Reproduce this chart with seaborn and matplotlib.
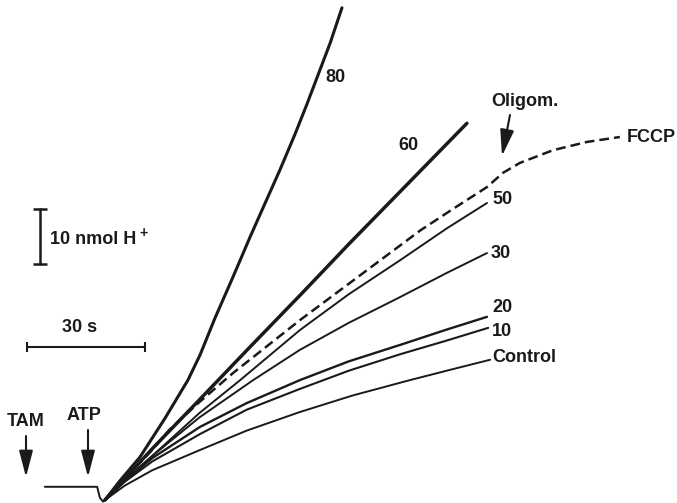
import seaborn as sns
import matplotlib.pyplot as plt
import pandas as pd
import numpy as np

# proton extrusion traces, time in s, H+ in nmol
t_80 = [0, 3.8, 8.9, 15.3, 21.1, 24.2, 28.0, 32.6, 36.9, 40.2, 44.5, 48.4, 51.4, 54.7, 57.3, 60.3]
h_80 = [0, 3.5, 7.8, 14.9, 21.8, 26.4, 33.1, 40.6, 47.8, 53.1, 60.0, 66.6, 72.0, 78.2, 83.1, 89.5]

t_60 = [0, 5, 12, 24, 37, 50, 62, 75, 92.1]
h_60 = [0, 3.9, 9.3, 18.2, 27.9, 37.5, 46.5, 56.0, 68.5]

t_fccp = [0, 5, 12, 16.3, 24, 32.6, 49.6, 62, 80.2, 88.5, 97.2, 101.3, 105.6, 114.0, 122.6, 131.0]
h_fccp = [0, 3.8, 9.1, 12.7, 17.8, 23.1, 32.7, 39.3, 49.0, 52.9, 56.9, 59.5, 61.3, 63.6, 65.1, 66.0]

t_50 = [0, 5, 12, 24, 34.4, 49.6, 62, 75.1, 87, 97.2]
h_50 = [0, 3.5, 8.0, 15.8, 21.8, 30.9, 37.4, 43.6, 49.4, 54.0]

t_30 = [0, 5, 12, 24, 37.7, 49.6, 62, 75.1, 87, 97.2]
h_30 = [0, 3.6, 8.0, 15.0, 21.8, 27.3, 32.2, 36.9, 41.3, 44.9]

t_20 = [0, 5, 12, 24.2, 36, 49.6, 62, 75.1, 87, 97.2]
h_20 = [0, 3.5, 7.6, 13.3, 17.6, 21.8, 25.2, 28.2, 31.0, 33.3]

t_10 = [0, 5, 12, 24.2, 36, 49.6, 62, 75.1, 87, 97.5]
h_10 = [0, 3.3, 7.0, 12.0, 16.4, 20.2, 23.5, 26.5, 29.0, 31.3]

t_ctrl = [0, 5, 12, 24.2, 36, 49.6, 63, 77.6, 88, 98]
h_ctrl = [0, 2.6, 5.4, 9.1, 12.6, 16.0, 19.0, 21.8, 23.7, 25.5]

# baseline before ATP addition
t_base = [-15.3, -2.0, -1.3, -0.5, 0]
h_base = [2.4, 2.4, 0.4, -0.3, 0]

labels = ['80', '60', 'FCCP', '50', '30', '20', '10', 'Control']

sns.set_theme(style='white')
plt.rcParams['font.family'] = ['Liberation Sans', 'DejaVu Sans']

fig = plt.figure(figsize=(6.77, 5.03), dpi=100)
ax = fig.add_axes([0, 0, 1, 1])

X0, Y0, SX, SY = 105, 500, 3.93, 5.5   # pixel origin and px per unit


def px(x, y):
    return ((x - X0) / SX, (Y0 - y) / SY)


traces = [
    (t_80, h_80, 2.2, '-'),
    (t_60, h_60, 2.5, '-'),
    (t_fccp, h_fccp, 1.8, (0, (3.9, 2.0))),
    (t_50, h_50, 1.4, '-'),
    (t_30, h_30, 1.4, '-'),
    (t_20, h_20, 1.7, '-'),
    (t_10, h_10, 1.5, '-'),
    (t_ctrl, h_ctrl, 1.4, '-'),
]
for t, h, lw, ls in traces:
    sns.lineplot(x=t, y=h, ax=ax, color='k', linewidth=lw, linestyle=ls,
                 sort=False, estimator=None)
sns.lineplot(x=t_base, y=h_base, ax=ax, color='k', linewidth=1.4,
             sort=False, estimator=None)

fs = 13
txt = dict(fontsize=fs, fontweight='bold', color='k', va='center', ha='left')
label_pos = {'80': (325, 78), '60': (398, 146), 'FCCP': (627, 137),
             '50': (492, 200), '30': (491, 254), '20': (492, 307),
             '10': (492, 332), 'Control': (492, 357)}
for lab in labels:
    ax.text(*px(*label_pos[lab]), lab, **txt)

ax.text(*px(525, 102), 'Oligom.', **{**txt, 'ha': 'center'})
ax.text(*px(26, 422), 'TAM', **{**txt, 'ha': 'center'})
ax.text(*px(84, 415), 'ATP', **{**txt, 'ha': 'center'})

arrow = dict(arrowstyle='-|>,head_length=1.6,head_width=0.42', color='k',
             lw=1.5, shrinkA=0, shrinkB=0, mutation_scale=10)
ax.annotate('', xy=px(502, 156), xytext=px(510, 115), arrowprops=arrow)
ax.annotate('', xy=px(26, 477), xytext=px(26, 436), arrowprops=arrow)
ax.annotate('', xy=px(88, 477), xytext=px(88, 430), arrowprops=arrow)

# scale bars: 10 nmol H+ and 30 s
vx, vy = px(40, 264)
ax.plot([vx, vx], [vy, vy + 10], color='k', lw=1.8, marker='_',
        markersize=10, markeredgewidth=1.8)
ax.text(*px(50, 239), '10 nmol H', **txt)
ax.text(*px(139, 233), '+', **{**txt, 'fontsize': 10})

hx, hy = px(27, 347)
ax.plot([hx, hx + 30], [hy, hy], color='k', lw=1.5, marker='|',
        markersize=7, markeredgewidth=1.5)
ax.text(*px(80, 328), '30 s', **{**txt, 'ha': 'center'})

ax.set_xlim(-X0 / SX, (677 - X0) / SX)
ax.set_ylim((Y0 - 503) / SY, Y0 / SY)
ax.axis('off')

fig.savefig('out.png', dpi=100)
